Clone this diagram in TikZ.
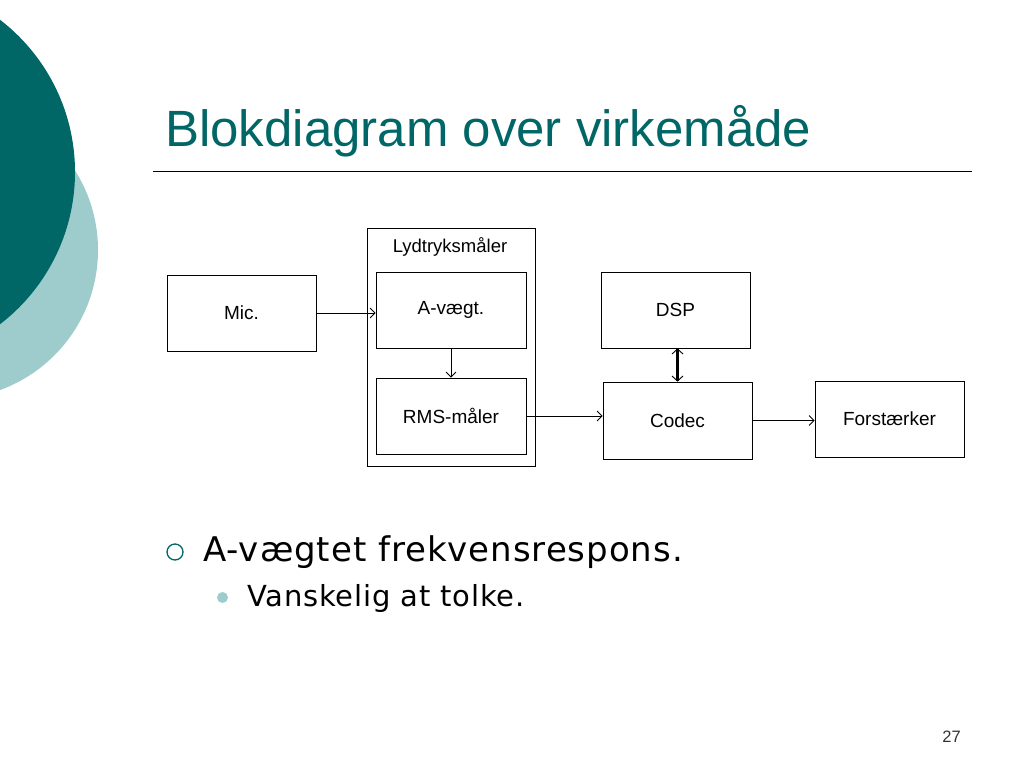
\documentclass[tikz,border=0pt]{standalone}
\usepackage{fontspec}
\setmainfont{Liberation Sans}
\newfontfamily\bulletfont[LetterSpace=2.8]{DejaVu Sans}
\usepackage{tikz}
\usetikzlibrary{arrows.meta}
\definecolor{darkteal}{RGB}{0,102,102}
\definecolor{lightteal}{RGB}{158,204,204}
\tikzstyle{block} = [rectangle,
minimum width=149pt,
minimum height=76pt,
inner sep=0pt,
draw=black,
line width=0.8pt,
font=\fontsize{19}{21}\selectfont]
\tikzstyle{arrow} = [line width=0.8pt,-{Straight Barb[length=5pt,width=10pt]}]
\tikzstyle{thickarrow} = [line width=2.4pt,
{Straight Barb[length=5pt,width=11pt,line width=0.9pt]}-{Straight Barb[length=5pt,width=11pt,line width=0.9pt]}]

\begin{document}
\begin{tikzpicture}[x=1pt, y=-1pt]
    \useasboundingbox (0,0) rectangle (1024,768);
    \clip (0,0) rectangle (1024,768);

    % Background circles
    \fill[lightteal] (-51,250) circle (149);
    \fill[darkteal] (-117,172) circle (192);

    % Title and rule
    \node (title) [anchor=base west, inner sep=0pt, text=darkteal,
      font=\fontsize{51}{60}\selectfont] at (165,146) {Blokdiagram over virkemåde};
    \coordinate (ruleL) at (153,171);
    \coordinate (ruleR) at (972,171);
    \draw [line width=1pt] (ruleL) -- (ruleR);

    % Outer block
    \node (lyd) [block, minimum width=168pt, minimum height=238pt] at (451,347) {};
    \node (lydlabel) [font=\fontsize{18.5}{20}\selectfont] at (450,247) {Lydtryksmåler};

    \node (mic) [block] at (241.5,313) {Mic.};
    \node (avaegt) [block, minimum width=150pt] at (451,310) {A-vægt.};
    \node (rms) [block, minimum width=150pt] at (451,416) {RMS-måler};
    \node (dsp) [block] at (675.5,310) {DSP};
    \node (codec) [block, minimum height=77pt] at (677.5,420.5) {Codec};
    \node (forst) [block] at (889.5,419) {Forstærker};

    % Signal path
    \draw [arrow] (mic.east) -- (mic.east -| avaegt.west);
    \draw [arrow] (avaegt.south) -- (rms.north);
    \draw [arrow] (rms.east) -- (rms.east -| codec.west);
    \draw [arrow] (codec.east) -- (codec.east -| forst.west);
    \draw [thickarrow] (dsp.south -| codec.north) -- (codec.north);

    % Bullets
    \draw [darkteal, line width=1.3pt] (175,552) circle (8);
    \node (b1) [anchor=base west, inner sep=0pt, font=\bulletfont\fontsize{34}{40}\selectfont]
      at (203,561) {A-vægtet frekvensrespons.};
    \fill [lightteal] (222.5,597.5) circle (5.5);
    \node (b2) [anchor=base west, inner sep=0pt, font=\bulletfont\fontsize{29}{34}\selectfont]
      at (247,606) {Vanskelig at tolke.};

    % Page number
    \node (page) [anchor=base east, inner sep=0pt, text=black!80,
      font=\fontsize{16.5}{19}\selectfont] at (961,742) {27};
  \end{tikzpicture}
\end{document}
